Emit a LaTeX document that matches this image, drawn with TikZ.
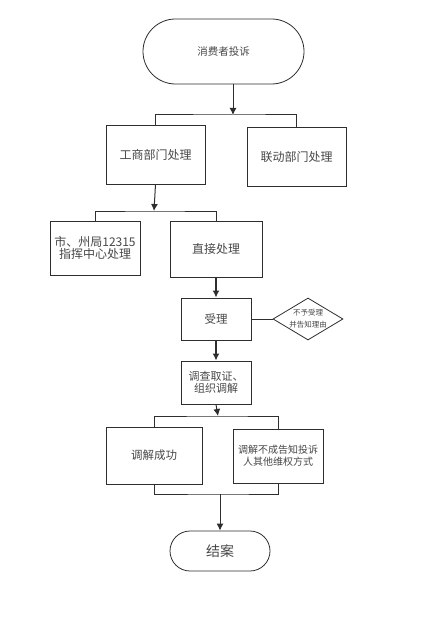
\documentclass[tikz,border=0pt]{standalone}
\usepackage{fontspec}
\setmainfont{Noto Sans CJK SC}
\usetikzlibrary{shapes.misc,shapes.geometric,arrows.meta}
\definecolor{linegray}{HTML}{2E2E2E}
\definecolor{textgray}{HTML}{474747}
\newcommand{\drawterm}[2]{\node[draw=linegray,line width=0.8bp,rounded rectangle,minimum width=#1bp,minimum height=#2bp,inner sep=0,text=textgray]}
\newcommand{\drawbox}[2]{\node[draw=linegray,line width=0.9bp,rectangle,minimum width=#1bp,minimum height=#2bp,inner sep=0,align=center,text=textgray]}
\newcommand{\drawdiam}{\node[draw=linegray,line width=0.8bp,diamond,aspect=1.67,minimum width=70bp,minimum height=42bp,inner sep=0,align=center,text=textgray]}
\newcommand{\drawdummy}{\coordinate}
\newcommand{\txt}[2]{\fontsize{#1bp}{#2bp}\selectfont}

\begin{document}
\begin{tikzpicture}[x=1bp, y=-1bp, line width=1bp, draw=linegray,
  >={Latex[length=7bp,width=7bp]}]
\useasboundingbox (0,0) rectangle (420,624);
%complaint flow
\drawterm{161}{65} (start) at (223.5,51.5) {\txt{10.5}{13}消费者投诉};
\drawdummy (b1) at (233,115);
\drawbox{99}{59} (gs) at (155.5,154.5) {\txt{12}{15}工商部门处理};
\drawbox{99}{59} (ld) at (296.5,156.5) {\txt{12}{15}联动部门处理};
\drawdummy (b2) at (154,211);
\drawbox{90}{54} (sz) at (95,248) {\txt{12}{17}市、州局12315\\\txt{12}{17}指挥中心处理};
\drawbox{92}{56} (zj) at (216,249) {\txt{12}{15}直接处理};
\drawbox{70}{42} (sl) at (216,319) {\txt{11.5}{14}受理};
\drawdiam (bsl) at (308,319) {\txt{7.5}{10}不予受理\\\txt{7.5}{10}并告知理由};
\drawbox{70}{43} (dc) at (216,382.5) {\txt{11}{13.5}调查取证、\\\txt{11}{13.5}组织调解};
\drawdummy (b3) at (218,416);
\drawbox{96}{57} (cg) at (154,455.5) {\txt{11.5}{14}调解成功};
\drawbox{90}{54} (bc) at (278,456) {\txt{10}{12}调解不成告知投诉\\\txt{10}{12}人其他维权方式};
\drawdummy (b4) at (220,494);
\drawterm{100}{40} (ja) at (220,551) {\txt{14}{16}结案};

\draw[->] (start.south -| b1) to (b1);
\draw (gs.north) |- (b1) -| (ld.north);
\draw[->] (gs.south) to (b2);
\draw (sz.north) |- (b2) -| (zj.north);
\draw[->, line width=1.8bp] (zj.south) to (sl.north);
\draw[-] (sl.east) to (bsl.west);
\draw[->, line width=1.8bp] (sl.south) to (dc.north);
\draw[->] (dc.south) to (b3);
\draw (cg.north) |- (b3) -| (bc.north);
\draw (cg.south) |- (b4) -| (bc.south);
\draw[->] (b4) to (ja.north);
\end{tikzpicture}
\end{document}
